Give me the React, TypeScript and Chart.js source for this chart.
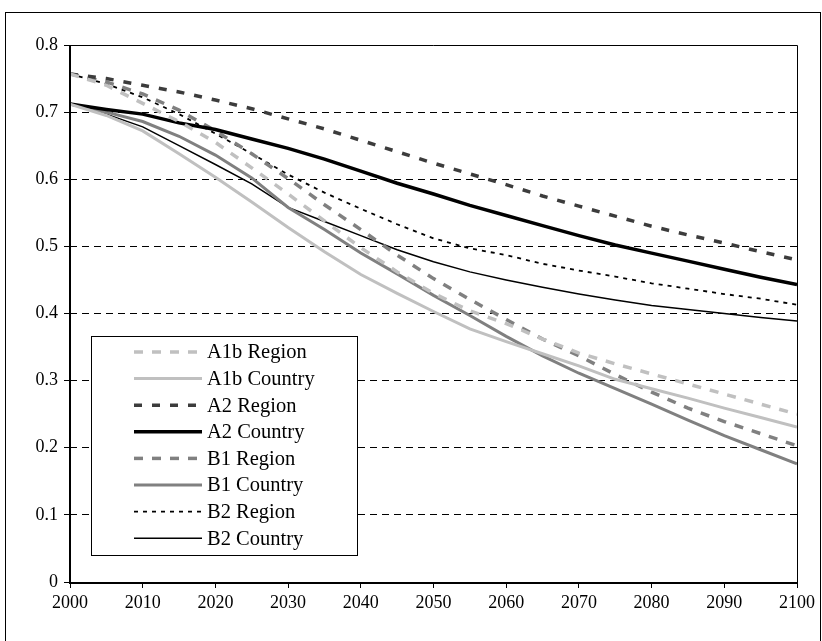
import React, { useEffect, useRef } from "react";
import { Chart, registerables } from "chart.js";

Chart.register(...registerables);

// Years sampled every five years, 2000–2100
const years = [
  2000, 2005, 2010, 2015, 2020, 2025, 2030, 2035, 2040, 2045, 2050,
  2055, 2060, 2065, 2070, 2075, 2080, 2085, 2090, 2095, 2100,
];

const a1bRegion = [0.757, 0.740, 0.713, 0.686, 0.655, 0.617, 0.578, 0.538, 0.498, 0.462, 0.430, 0.404, 0.385, 0.362, 0.341, 0.325, 0.310, 0.295, 0.280, 0.265, 0.250];
const a1bCountry = [0.712, 0.695, 0.672, 0.638, 0.603, 0.566, 0.528, 0.492, 0.458, 0.430, 0.403, 0.377, 0.358, 0.340, 0.322, 0.302, 0.288, 0.274, 0.259, 0.245, 0.231];
const a2Region = [0.757, 0.750, 0.740, 0.730, 0.718, 0.705, 0.690, 0.675, 0.658, 0.641, 0.624, 0.608, 0.592, 0.575, 0.560, 0.545, 0.530, 0.517, 0.505, 0.492, 0.480];
const a2Country = [0.712, 0.704, 0.697, 0.684, 0.674, 0.660, 0.646, 0.630, 0.612, 0.594, 0.578, 0.561, 0.546, 0.531, 0.516, 0.502, 0.490, 0.478, 0.466, 0.454, 0.443];
const b1Region = [0.757, 0.745, 0.727, 0.703, 0.672, 0.638, 0.601, 0.562, 0.525, 0.487, 0.452, 0.421, 0.391, 0.362, 0.337, 0.309, 0.283, 0.259, 0.239, 0.221, 0.203];
const b1Country = [0.712, 0.700, 0.686, 0.664, 0.636, 0.602, 0.558, 0.525, 0.490, 0.459, 0.427, 0.397, 0.366, 0.337, 0.311, 0.288, 0.265, 0.241, 0.218, 0.197, 0.176];
const b2Region = [0.757, 0.742, 0.722, 0.697, 0.668, 0.638, 0.607, 0.580, 0.556, 0.533, 0.512, 0.497, 0.487, 0.474, 0.464, 0.455, 0.445, 0.437, 0.429, 0.422, 0.413];
const b2Country = [0.712, 0.697, 0.678, 0.650, 0.622, 0.593, 0.558, 0.537, 0.516, 0.495, 0.477, 0.462, 0.450, 0.439, 0.429, 0.420, 0.412, 0.406, 0.400, 0.394, 0.389];

const seriesNames = [
  "A1b Region", "A1b Country", "A2 Region", "A2 Country",
  "B1 Region", "B1 Country", "B2 Region", "B2 Country",
];

const yTicks = [0, 0.1, 0.2, 0.3, 0.4, 0.5, 0.6, 0.7, 0.8];
const xTicks = [2000, 2010, 2020, 2030, 2040, 2050, 2060, 2070, 2080, 2090, 2100];

const FONT = '"Liberation Serif", "Times New Roman", serif';

const toPoints = (vals: number[]) => years.map((x, i) => ({ x, y: vals[i] }));

// Outer frame, plot frame and in-plot legend
const decorations = {
  id: "decorations",
  beforeDraw(chart: any) {
    const { ctx, width, height } = chart;
    ctx.save();
    ctx.fillStyle = "#ffffff";
    ctx.fillRect(0, 0, width, height);
    ctx.strokeStyle = "#000000";
    ctx.lineWidth = 1;
    ctx.strokeRect(5.5, 12.5, 815, 700);
    ctx.restore();
  },
  afterDatasetsDraw(chart: any) {
    const { ctx, chartArea } = chart;
    const { left, right, top, bottom } = chartArea;
    ctx.save();
    ctx.strokeStyle = "#000000";
    ctx.lineWidth = 1;
    ctx.beginPath();
    ctx.moveTo(left, top + 0.5);
    ctx.lineTo(right + 0.5, top + 0.5);
    ctx.lineTo(right + 0.5, bottom);
    ctx.stroke();
    ctx.lineWidth = 2;
    ctx.beginPath();
    ctx.moveTo(left, top);
    ctx.lineTo(left, bottom + 1);
    ctx.lineTo(right + 1, bottom + 1);
    ctx.stroke();

    // legend box
    const bx = 91.5, by = 336.5, bw = 266, bh = 219;
    ctx.fillStyle = "#ffffff";
    ctx.fillRect(bx, by, bw, bh);
    ctx.lineWidth = 1;
    ctx.strokeStyle = "#000000";
    ctx.strokeRect(bx, by, bw, bh);

    ctx.font = `20.5px ${FONT}`;
    ctx.textBaseline = "middle";
    ctx.textAlign = "left";
    chart.data.datasets.forEach((ds: any, i: number) => {
      const y = 352 + i * 26.6;
      ctx.save();
      ctx.strokeStyle = ds.borderColor;
      ctx.lineWidth = ds.borderWidth;
      ctx.setLineDash(ds.borderDash || []);
      ctx.beginPath();
      ctx.moveTo(134, y);
      ctx.lineTo(202, y);
      ctx.stroke();
      ctx.restore();
      ctx.fillStyle = "#000000";
      ctx.fillText(ds.label, 207, y + 1);
    });
    ctx.restore();
  },
};

export default function App() {
  const canvasRef = useRef<HTMLCanvasElement | null>(null);

  useEffect(() => {
    if (!canvasRef.current) return;
    const styles = [
      { color: "#c0c0c0", width: 3.5, dash: [9, 9] },
      { color: "#c0c0c0", width: 3, dash: [] },
      { color: "#3c3c3c", width: 3.5, dash: [8, 10] },
      { color: "#000000", width: 3.5, dash: [] },
      { color: "#808080", width: 3.5, dash: [9, 9] },
      { color: "#808080", width: 3, dash: [] },
      { color: "#000000", width: 1.8, dash: [4, 5] },
      { color: "#000000", width: 1.5, dash: [] },
    ];
    const values = [a1bRegion, a1bCountry, a2Region, a2Country, b1Region, b1Country, b2Region, b2Country];

    const chart = new Chart(canvasRef.current, {
      type: "line",
      data: {
        datasets: values.map((v, i) => ({
          label: seriesNames[i],
          data: toPoints(v),
          borderColor: styles[i].color,
          backgroundColor: styles[i].color,
          borderWidth: styles[i].width,
          borderDash: styles[i].dash,
          pointRadius: 0,
          tension: 0,
          fill: false,
        })),
      },
      options: {
        animation: false,
        responsive: false,
        layout: { padding: { top: 45, right: 25, left: 0, bottom: 0 } },
        plugins: { legend: { display: false }, tooltip: { enabled: false } },
        scales: {
          x: {
            type: "linear",
            min: 2000,
            max: 2100,
            afterBuildTicks: (s: any) => { s.ticks = xTicks.map((v) => ({ value: v })); },
            afterFit: (s: any) => { s.height = 59; },
            ticks: {
              color: "#000000",
              font: { family: FONT, size: 18 },
              padding: 4,
              maxRotation: 0,
              callback: (v: any) => String(v),
            },
            grid: { drawOnChartArea: false, tickLength: 6, color: "#000000", tickColor: "#000000" },
            border: { display: false },
          },
          y: {
            min: 0,
            max: 0.8,
            afterBuildTicks: (s: any) => { s.ticks = yTicks.map((v) => ({ value: v })); },
            afterFit: (s: any) => { s.width = 70; },
            ticks: {
              color: "#000000",
              font: { family: FONT, size: 18 },
              padding: 6,
              callback: (v: any) => String(Math.round(v * 10) / 10),
            },
            grid: {
              tickLength: 6,
              color: (c: any) => (c.tick && (c.tick.value === 0 || c.tick.value === 0.8) ? "rgba(0,0,0,0)" : "#000000"),
              tickColor: "#000000",
              lineWidth: 1,
            },
            border: { display: false, dash: [7, 5] },
          },
        },
      },
      plugins: [decorations],
    });
    return () => chart.destroy();
  }, []);

  return (
    <div style={{ position: "fixed", left: 0, top: 0, width: 822, height: 641, background: "#fff" }}>
      <canvas ref={canvasRef} width={822} height={641} style={{ width: 822, height: 641, display: "block" }} />
    </div>
  );
}
